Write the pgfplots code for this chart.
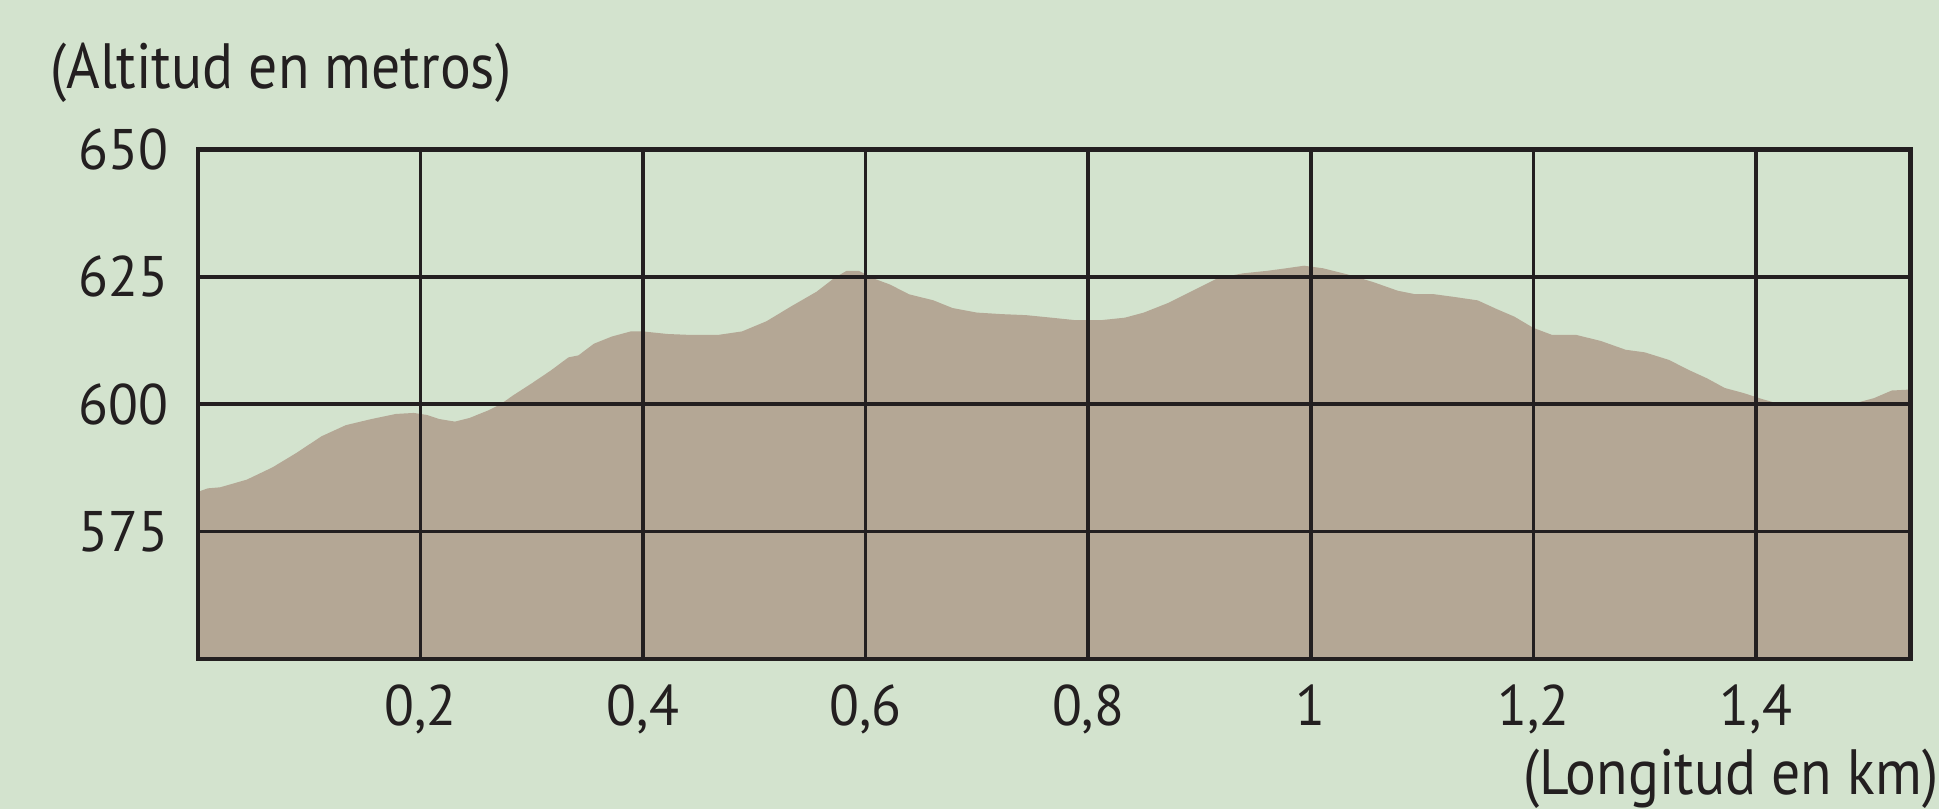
\documentclass[border=0pt]{standalone}
\usepackage{pgfplots}
\pgfplotsset{compat=1.18}
\usepackage{fontspec}
\setmainfont{PT Sans}[FakeStretch=0.96]
\newfontfamily\etiqueta{PT Sans}[FakeStretch=0.9]
\definecolor{fondo}{HTML}{D3E3CE}
\definecolor{terreno}{HTML}{B4A795}
\definecolor{tinta}{HTML}{231F20}
\begin{document}
\begin{tikzpicture}
\fill[fondo] (-49.45pt,-37.5pt) rectangle (435.3pt,164.75pt);
\begin{axis}[
    at={(0pt,0pt)}, anchor=south west,
    scale only axis,
    width=428.2pt, height=127.35pt,
    xmin=0, xmax=1.539,
    ymin=550, ymax=650,
    axis on top,
    xtick={0.2,0.4,0.6,0.8,1,1.2,1.4},
    xticklabels={{0,2},{0,4},{0,6},{0,8},1,{1,2},{1,4}},
    ytick={575,600,625,650},
    major tick length=0pt,
    grid=major,
    major grid style={tinta, line width=0.9pt},
    axis line style={tinta, line width=1.1pt},
    tick label style={font=\fontsize{14.3}{17}\selectfont, text=tinta, inner sep=0pt},
    xticklabel style={anchor=north, yshift=-6.25pt},
    yticklabel style={anchor=east, xshift=-7.2pt},
    /pgf/number format/assume math mode=true,
]
\addplot[fill=terreno, draw=none] coordinates {
    (0.000,582.8) (0.009,583.5) (0.020,583.7) (0.044,585.2) (0.067,587.6)
    (0.089,590.5) (0.111,593.7) (0.133,595.9) (0.156,597.1) (0.178,598.1)
    (0.194,598.3) (0.206,597.9) (0.217,597.1) (0.231,596.6) (0.244,597.3)
    (0.261,598.8) (0.272,600.0) (0.283,601.7) (0.300,604.1) (0.317,606.6)
    (0.333,609.2) (0.342,609.6) (0.356,611.9) (0.372,613.3) (0.389,614.3)
    (0.400,614.3) (0.422,613.8) (0.444,613.6) (0.467,613.6) (0.489,614.3)
    (0.511,616.3) (0.533,619.2) (0.556,622.1) (0.572,624.8) (0.583,626.2)
    (0.594,626.2) (0.606,624.8) (0.622,623.5) (0.639,621.6) (0.661,620.4)
    (0.678,618.9) (0.700,618.0) (0.722,617.7) (0.744,617.5) (0.767,617.0)
    (0.789,616.5) (0.811,616.5) (0.833,617.0) (0.850,618.0) (0.872,619.9)
    (0.894,622.3) (0.917,624.8) (0.939,625.7) (0.961,626.2) (0.978,626.7)
    (0.994,627.2) (1.011,626.7) (1.033,625.5) (1.056,624.0) (1.078,622.3)
    (1.094,621.6) (1.111,621.6) (1.128,621.1) (1.150,620.4) (1.167,618.7)
    (1.183,617.2) (1.200,615.0) (1.217,613.6) (1.239,613.6) (1.261,612.4)
    (1.283,610.7) (1.300,610.2) (1.322,608.7) (1.339,606.8) (1.356,605.1)
    (1.372,603.2) (1.389,602.2) (1.406,601.0) (1.422,600.0) (1.444,599.8)
    (1.467,599.8) (1.489,600.2) (1.506,601.2) (1.522,602.7) (1.539,602.9)
} \closedcycle;
\end{axis}
\node[anchor=base west, inner sep=0pt, text=tinta, font=\etiqueta\fontsize{16}{19}\selectfont]
    at (-37.1pt,142.55pt) {(Altitud en metros)};
\node[anchor=base east, inner sep=0pt, text=tinta, font=\etiqueta\fontsize{16}{19}\selectfont]
    at (435.3pt,-34pt) {(Longitud en km)};
\pgfresetboundingbox
\useasboundingbox (-49.45pt,-37.5pt) rectangle (435.3pt,164.75pt);
\end{tikzpicture}
\end{document}
